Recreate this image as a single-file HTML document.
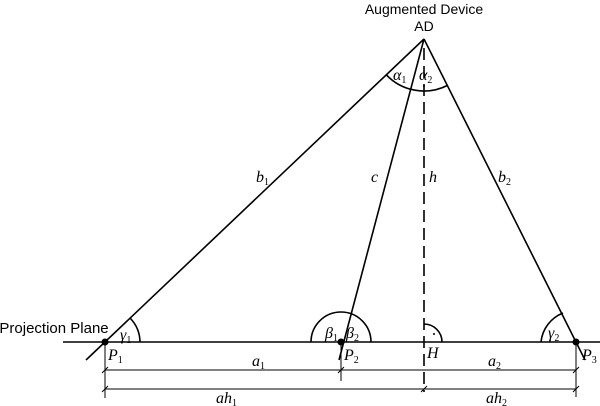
<!DOCTYPE html>
<html><head><style>body{margin:0;background:#fff}svg{display:block}
.t{font-family:"Liberation Serif",serif;font-style:italic;font-size:16px}
.s{font-family:"Liberation Serif",serif;font-style:normal;font-size:10px}
</style></head><body>
<svg width="600" height="406" viewBox="0 0 600 406" xmlns="http://www.w3.org/2000/svg">
<g stroke="#000" fill="none" stroke-width="1.6">
<line x1="63" y1="342" x2="600" y2="342"/>
<line x1="424" y1="39" x2="86" y2="360"/>
<line x1="424" y1="39" x2="339" y2="360"/>
<line x1="424" y1="39" x2="585" y2="360"/>
<line x1="424" y1="48" x2="424" y2="392" stroke-dasharray="12,6"/>
<path d="M130,318 A35,35 0 0,1 140,342"/>
<path d="M311,342 A30,30 0 0,1 371,342"/>
<path d="M424,324 A18,18 0 0,1 442,342"/>
<path d="M541,342 A35,35 0 0,1 563,313"/>
<path d="M386.3,74.8 A52,52 0 0,0 447.3,85.5"/>
</g>
<g stroke="#000" stroke-width="1">
<line x1="105" y1="342" x2="105" y2="398"/>
<line x1="341" y1="342" x2="341" y2="381"/>
<line x1="576" y1="342" x2="576" y2="397"/>
<line x1="105" y1="370" x2="576" y2="370"/>
<line x1="105" y1="389" x2="576" y2="389"/>
<line x1="102" y1="373" x2="108" y2="367"/>
<line x1="102" y1="392" x2="108" y2="386"/>
<line x1="338" y1="373" x2="344" y2="367"/>
<line x1="573" y1="373" x2="579" y2="367"/>
<line x1="421" y1="392" x2="427" y2="386"/>
<line x1="573" y1="392" x2="579" y2="386"/>
</g>
<g fill="#000"><circle cx="105" cy="342" r="3.5"/><circle cx="341" cy="342" r="3.5"/><circle cx="576" cy="342" r="3.5"/>
<circle cx="434" cy="334" r="1"/><circle cx="424" cy="86" r="1"/></g>
<g font-family="Liberation Sans, sans-serif" font-size="14" text-anchor="middle">
<text x="424" y="14">Augmented Device</text><text x="424" y="31">AD</text>
<text x="54" y="333" font-size="15">Projection Plane</text></g>
<g class="t">
<text x="256" y="182">b<tspan class="s" dy="3">1</tspan></text>
<text x="371" y="182">c</text>
<text x="429" y="182">h</text>
<text x="498" y="182">b<tspan class="s" dy="3">2</tspan></text>
<text x="393" y="80">α<tspan class="s" dy="3">1</tspan></text>
<text x="419" y="80">α<tspan class="s" dy="3">2</tspan></text>
<text x="120" y="340">γ<tspan class="s" dy="3">1</tspan></text>
<text x="325" y="338">β<tspan class="s" dy="3">1</tspan></text>
<text x="346" y="338">β<tspan class="s" dy="3">2</tspan></text>
<text x="548" y="338">γ<tspan class="s" dy="3">2</tspan></text>
<text x="108" y="360">P<tspan class="s" dy="3">1</tspan></text>
<text x="344" y="360">P<tspan class="s" dy="3">2</tspan></text>
<text x="427" y="358">H</text>
<text x="582" y="360">P<tspan class="s" dy="3">3</tspan></text>
<text x="252" y="366">a<tspan class="s" dy="3">1</tspan></text>
<text x="488" y="366">a<tspan class="s" dy="3">2</tspan></text>
<text x="216" y="403">ah<tspan class="s" dy="3">1</tspan></text>
<text x="486" y="403">ah<tspan class="s" dy="3">2</tspan></text>
</g>
</svg>
</body></html>
